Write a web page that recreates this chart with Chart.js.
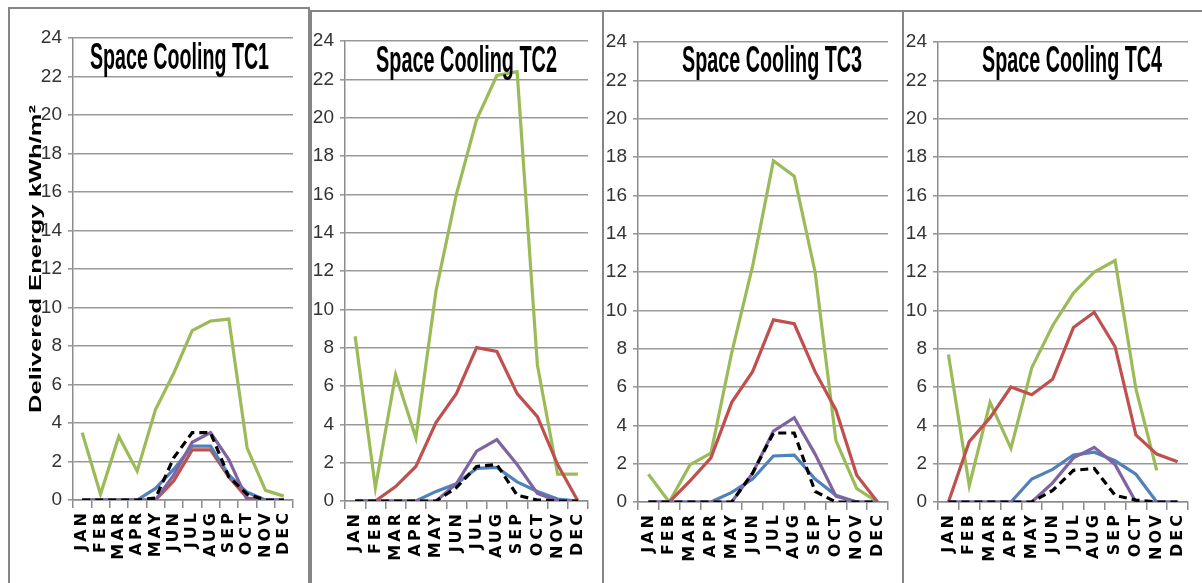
<!DOCTYPE html>
<html>
<head>
<meta charset="utf-8">
<script src="https://cdn.jsdelivr.net/npm/chart.js@4.4.0/dist/chart.umd.min.js"></script>
<style>
  body { margin: 0; background: #fff; width: 1202px; height: 583px; overflow: hidden; position: relative; }
  .panel { position: absolute; border: 2px solid #868686; box-sizing: border-box; }
  canvas { position: absolute; top: 0; }
</style>
</head>
<body>
<div class="panel" style="left:8px;top:7px;width:302px;height:620px"></div>
<div class="panel" style="left:310px;top:10px;width:294px;height:620px"></div>
<div class="panel" style="left:602px;top:10px;width:302px;height:620px"></div>
<div class="panel" style="left:902px;top:10px;width:310px;height:620px"></div>
<canvas id="c1" width="310" height="583" style="left:0px"></canvas>
<canvas id="c2" width="293" height="583" style="left:310px"></canvas>
<canvas id="c3" width="300" height="583" style="left:603px"></canvas>
<canvas id="c4" width="299" height="583" style="left:903px"></canvas>
<script>
// categories
const months = ['JAN', 'FEB', 'MAR', 'APR', 'MAY', 'JUN', 'JUL', 'AUG', 'SEP', 'OCT', 'NOV', 'DEC'];

// Space Cooling TC1
const tc1Green  = [3.5, 0.3, 3.3, 1.5, 4.7, 6.6, 8.8, 9.3, 9.4, 2.7, 0.5, 0.2];
const tc1Red    = [0, 0, 0, 0, 0, 1.0, 2.6, 2.6, 1.2, 0.1, 0, 0];
const tc1Blue   = [0, 0, 0, 0, 0.6, 1.6, 2.8, 2.8, 1.3, 0.4, 0, 0];
const tc1Purple = [0, 0, 0, 0, 0, 1.3, 3.0, 3.5, 2.1, 0, 0, 0];
const tc1Black  = [0, 0, 0, 0, 0.1, 2.2, 3.5, 3.5, 1.2, 0.3, 0, 0];

// Space Cooling TC2
const tc2Green  = [8.6, 0.7, 6.6, 3.3, 11.0, 16.0, 19.9, 22.2, 22.4, 7.1, 1.4, 1.4];
const tc2Red    = [0, 0, 0.75, 1.8, 4.1, 5.6, 8.0, 7.8, 5.6, 4.4, 1.9, 0];
const tc2Blue   = [0, 0, 0, 0, 0.5, 0.9, 1.7, 1.75, 1.0, 0.5, 0.1, 0];
const tc2Purple = [0, 0, 0, 0, 0, 0.9, 2.6, 3.2, 1.9, 0.4, 0, 0];
const tc2Black  = [0, 0, 0, 0, 0, 0.7, 1.8, 1.9, 0.3, 0.05, 0, 0];

// Space Cooling TC3
const tc3Green  = [1.45, 0, 1.95, 2.55, 7.8, 12.3, 17.8, 17.0, 12.0, 3.2, 0.7, 0];
const tc3Red    = [0, 0, 1.1, 2.3, 5.2, 6.8, 9.5, 9.3, 6.8, 4.8, 1.4, 0];
const tc3Blue   = [0, 0, 0, 0, 0.5, 1.2, 2.4, 2.45, 1.2, 0.35, 0, 0];
const tc3Purple = [0, 0, 0, 0, 0, 1.5, 3.7, 4.4, 2.5, 0.3, 0, 0];
const tc3Black  = [0, 0, 0, 0, 0, 1.5, 3.6, 3.6, 0.55, 0, 0, 0];

// Space Cooling TC4
const tc4Green  = [7.7, 0.85, 5.2, 2.8, 7.0, 9.2, 10.9, 12.0, 12.6, 5.9, 1.65, null];
const tc4Red    = [0, 3.15, 4.4, 6.0, 5.6, 6.4, 9.1, 9.9, 8.1, 3.5, 2.5, 2.1];
const tc4Blue   = [0, 0, 0, 0, 1.2, 1.7, 2.45, 2.6, 2.15, 1.45, 0, 0];
const tc4Purple = [0, 0, 0, 0, 0, 1.0, 2.3, 2.85, 1.95, 0, 0, 0];
const tc4Black  = [0, 0, 0, 0, 0, 0.6, 1.65, 1.75, 0.35, 0.1, 0, 0];

// y axis tick range
const yMin = 0, yMax = 24, yStep = 2;

const panels = [
  { id: 'c1', title: 'Space Cooling TC1', series: [tc1Black, tc1Purple, tc1Blue, tc1Red, tc1Green],
    left: 0, width: 310, plotL: 73, plotR: 293, plotT: 38, plotB: 500,
    titleX: 90, titleY: 69, titleW: 179, yTitle: 'Delivered Energy kWh/m\u00B2' },
  { id: 'c2', title: 'Space Cooling TC2', series: [tc2Black, tc2Purple, tc2Blue, tc2Red, tc2Green],
    left: 310, width: 293, plotL: 345, plotR: 588, plotT: 41, plotB: 501,
    titleX: 376, titleY: 72, titleW: 181 },
  { id: 'c3', title: 'Space Cooling TC3', series: [tc3Black, tc3Purple, tc3Blue, tc3Red, tc3Green],
    left: 603, width: 300, plotL: 638, plotR: 888, plotT: 42, plotB: 502,
    titleX: 682, titleY: 72, titleW: 180 },
  { id: 'c4', title: 'Space Cooling TC4', series: [tc4Black, tc4Purple, tc4Blue, tc4Red, tc4Green],
    left: 903, width: 299, plotL: 938, plotR: 1188, plotT: 42, plotB: 502,
    titleX: 982, titleY: 72, titleW: 180 }
];

// black dashed on top, green at the bottom
const lineStyles = [
  { label: 'Series 5', color: '#000000', dash: [8, 5] },
  { label: 'Series 4', color: '#8064a2', dash: [] },
  { label: 'Series 3', color: '#4f81bd', dash: [] },
  { label: 'Series 2', color: '#c0504d', dash: [] },
  { label: 'Series 1', color: '#9bbb59', dash: [] }
];

// titles are drawn stretched like the original picture
const panelText = {
  id: 'panelText',
  afterDatasetsDraw(chart) {
    // month labels are drawn after this (ticks z = 1), spaced out
    chart.ctx.letterSpacing = '3px';
  },
  afterDraw(chart, args, opts) {
    const ctx = chart.ctx;
    ctx.letterSpacing = '0px';
    ctx.save();
    ctx.fillStyle = '#000';
    ctx.textBaseline = 'alphabetic';
    ctx.textAlign = 'left';
    ctx.font = 'bold 36px "Liberation Sans", Arial, sans-serif';
    const w = ctx.measureText(opts.title).width;
    ctx.translate(opts.x, opts.y);
    ctx.scale(opts.w / w, 1);
    ctx.fillText(opts.title, 0, 0);
    ctx.restore();

    if (opts.yTitle) {
      ctx.save();
      ctx.fillStyle = '#000';
      ctx.font = 'bold 17px "Liberation Sans", Arial, sans-serif';
      ctx.textAlign = 'center';
      ctx.textBaseline = 'middle';
      const tw = ctx.measureText(opts.yTitle).width;
      ctx.translate(36, 259);
      ctx.rotate(-Math.PI / 2);
      ctx.scale(308 / tw, 1);
      ctx.fillText(opts.yTitle, 0, 0);
      ctx.restore();
    }
  }
};

panels.forEach(p => {
  const ctx = document.getElementById(p.id).getContext('2d');
  new Chart(ctx, {
    type: 'line',
    data: {
      labels: months,
      datasets: p.series.map((s, i) => ({
        label: lineStyles[i].label,
        data: s,
        borderColor: lineStyles[i].color,
        borderDash: lineStyles[i].dash,
        borderWidth: 3.2,
        pointRadius: 0,
        tension: 0,
        fill: false
      }))
    },
    options: {
      responsive: false,
      animation: false,
      layout: { padding: { left: 0, top: p.plotT, right: p.left + p.width - p.plotR, bottom: 0 } },
      plugins: {
        legend: { display: false },
        tooltip: { enabled: false },
        panelText: { title: p.title, x: p.titleX - p.left, y: p.titleY, w: p.titleW, yTitle: p.yTitle }
      },
      scales: {
        x: {
          offset: true,
          grid: { offset: true, drawOnChartArea: false, color: '#8c8c8c', lineWidth: 1.5, tickLength: 8 },
          border: { color: '#8c8c8c', width: 1.5 },
          ticks: {
            z: 1, minRotation: 90, maxRotation: 90, autoSkip: false, padding: 2, color: '#000',
            font: { family: '"DejaVu Sans", Arial, sans-serif', size: 16, weight: 'bold' }
          },
          afterFit(scale) { scale.height = 583 - p.plotB; }
        },
        y: {
          min: yMin, max: yMax,
          grid: { color: '#999999', lineWidth: 1.6, tickLength: 5 },
          border: { color: '#8c8c8c', width: 1.5 },
          ticks: {
            stepSize: yStep, padding: 6, color: '#333333',
            font: { family: '"Liberation Sans Narrow", "Liberation Sans", Arial, sans-serif', size: 19 }
          },
          afterFit(scale) { scale.width = p.plotL - p.left; }
        }
      }
    },
    plugins: [panelText]
  });
});
</script>
</body>
</html>
